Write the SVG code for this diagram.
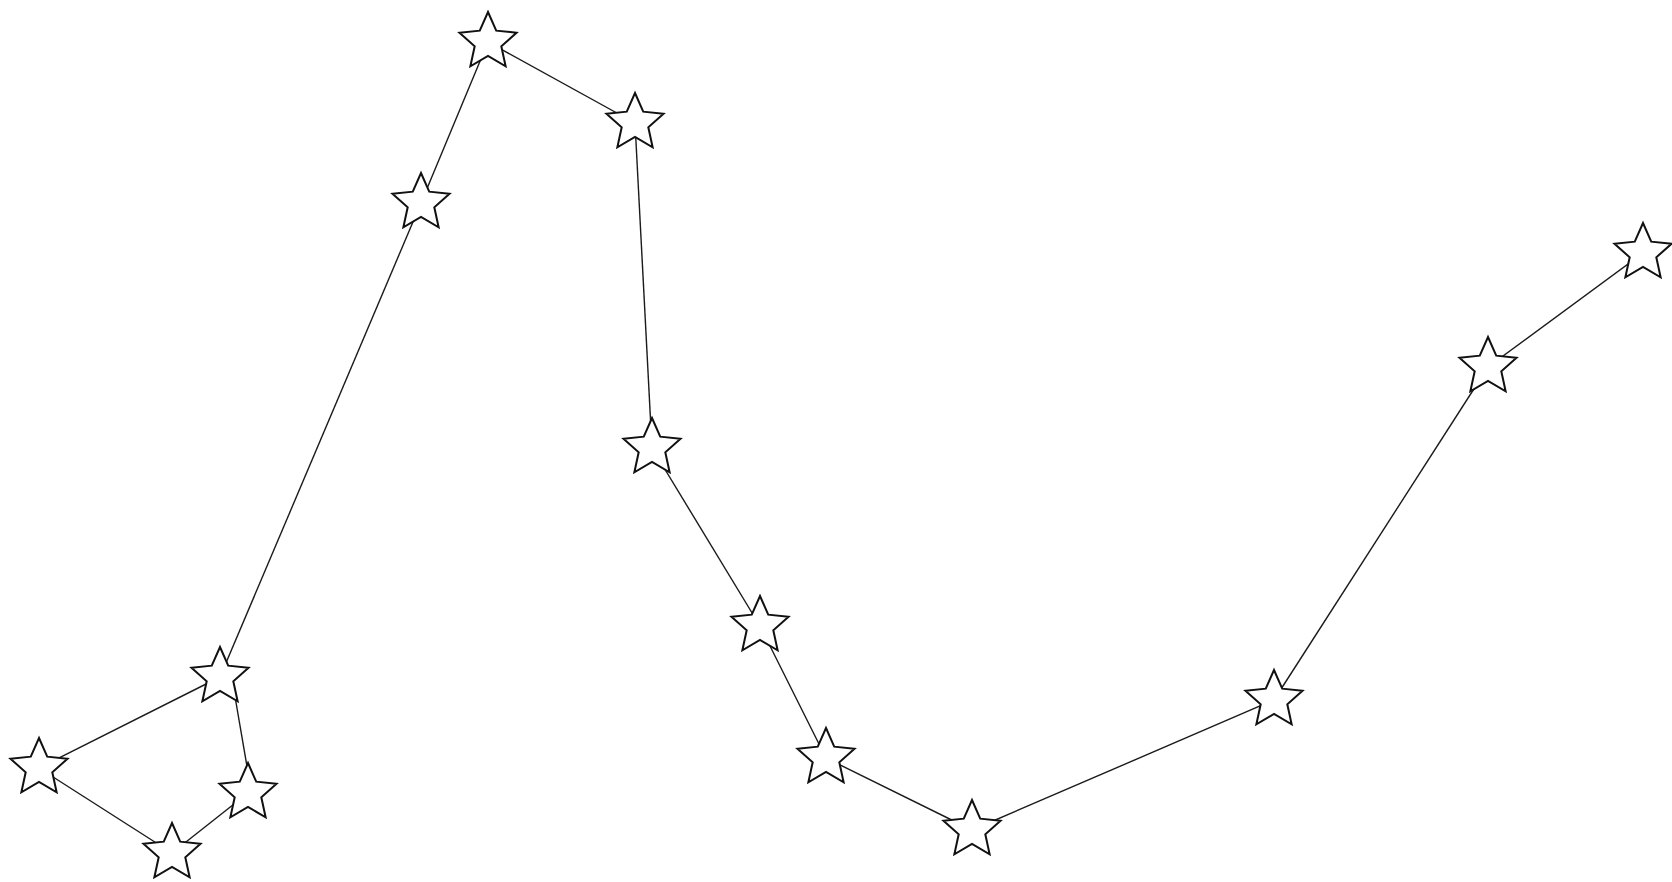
<svg xmlns="http://www.w3.org/2000/svg" xmlns:xlink="http://www.w3.org/1999/xlink" width="1672" height="882" viewBox="0 0 1672 882">
<style>
.edge{stroke:#1a1a1a;stroke-width:1.4;fill:none}
.star{fill:#ffffff;stroke:#111111;stroke-width:2;stroke-linejoin:miter}
</style>
<defs>
<path id="star" class="star" d="M0,-30 L8.23,-11.33 L28.53,-9.27 L13.31,4.33 L17.63,24.27 L0,14 L-17.63,24.27 L-13.31,4.33 L-28.53,-9.27 L-8.23,-11.33 Z"/>
</defs>
<rect width="1672" height="882" fill="#ffffff"/>
<g id="connectors">
<line class="edge" x1="421" y1="203" x2="488" y2="42"/>
<line class="edge" x1="488" y1="42" x2="635" y2="123"/>
<line class="edge" x1="635" y1="123" x2="652" y2="448"/>
<line class="edge" x1="652" y1="448" x2="760" y2="626"/>
<line class="edge" x1="760" y1="626" x2="826" y2="758"/>
<line class="edge" x1="826" y1="758" x2="972" y2="830"/>
<line class="edge" x1="972" y1="830" x2="1274" y2="700"/>
<line class="edge" x1="1274" y1="700" x2="1488" y2="367"/>
<line class="edge" x1="1488" y1="367" x2="1643" y2="253"/>
<line class="edge" x1="421" y1="203" x2="220" y2="677"/>
<line class="edge" x1="220" y1="677" x2="39" y2="768"/>
<line class="edge" x1="233" y1="685" x2="249" y2="778"/>
<line class="edge" x1="39" y1="768" x2="172" y2="853"/>
<line class="edge" x1="172" y1="853" x2="248" y2="793"/>
</g>
<g id="star1"><use href="#star" x="488" y="42"/></g>
<g id="star2"><use href="#star" x="635" y="123"/></g>
<g id="star3"><use href="#star" x="421" y="203"/></g>
<g id="star4"><use href="#star" x="652" y="448"/></g>
<g id="star5"><use href="#star" x="760" y="626"/></g>
<g id="star6"><use href="#star" x="826" y="758"/></g>
<g id="star7"><use href="#star" x="972" y="830"/></g>
<g id="star8"><use href="#star" x="1274" y="700"/></g>
<g id="star9"><use href="#star" x="1488" y="367"/></g>
<g id="star10"><use href="#star" x="1643" y="253"/></g>
<g id="star11"><use href="#star" x="220" y="677"/></g>
<g id="star12"><use href="#star" x="39" y="768"/></g>
<g id="star13"><use href="#star" x="248" y="793"/></g>
<g id="star14"><use href="#star" x="172" y="853"/></g>
</svg>
